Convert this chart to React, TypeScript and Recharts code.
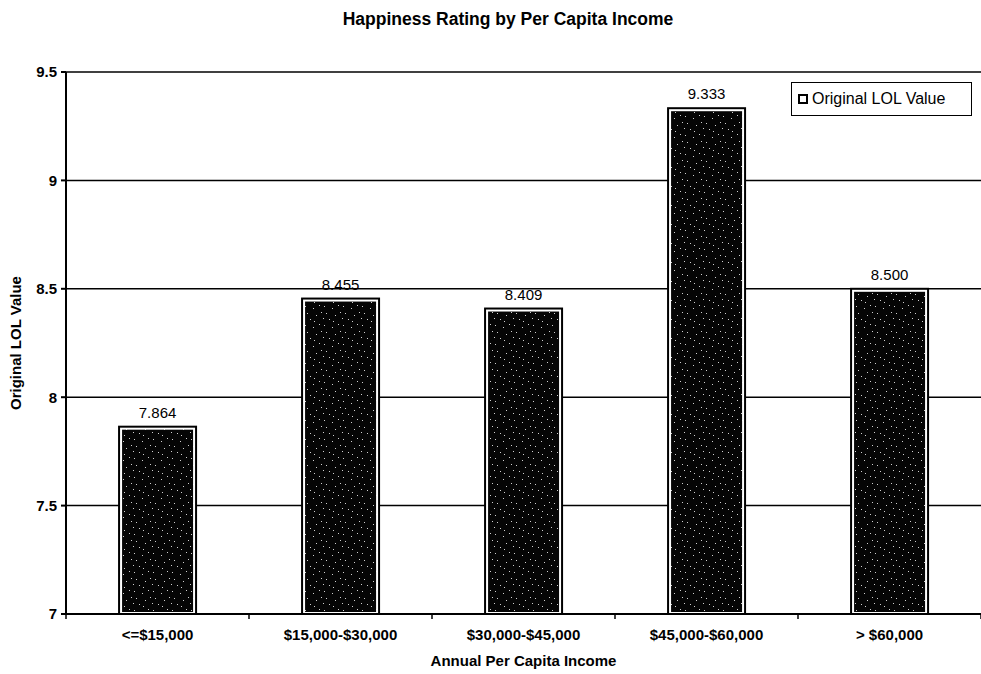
import { BarChart, Bar, XAxis, YAxis, CartesianGrid, Legend, LabelList } from 'recharts'

const incomeBands = ['<=$15,000', '$15,000-$30,000', '$30,000-$45,000', '$45,000-$60,000', '> $60,000']
const lolValues = [7.864, 8.455, 8.409, 9.333, 8.5]
const yTicks = [7, 7.5, 8, 8.5, 9, 9.5]

const data = incomeBands.map((band, i) => ({ band, value: lolValues[i] }))

const W = 981
const H = 674
const Y_AXIS_W = 66
const TICK_SIZE = 5
const TICK_MARGIN = 9
const FONT = 'Arial, "Liberation Sans", Helvetica, sans-serif'

// sparse light flecks over the near-black bar fill
const flecks = [
  [1, 2], [9, 4], [3, 9], [12, 11], [6, 15], [15, 1], [17, 8], [10, 17], [0, 14],
]

function FramedBar(props: any) {
  const { x, y, width, height } = props
  if (!height || height <= 0) return null
  return (
    <g>
      <rect x={x} y={y} width={width} height={height} fill="#fff" stroke="#000" strokeWidth={2} />
      <rect x={x + 3} y={y + 3} width={width - 6} height={height - 5} fill="url(#speckle)" />
    </g>
  )
}

// category label plus a short tick on the band boundary
function BandTick(props: any) {
  const { x, y, payload, index } = props
  const band = (W - Y_AXIS_W) / incomeBands.length
  const axisY = y - TICK_SIZE - TICK_MARGIN
  const left = x - band / 2
  return (
    <g>
      <line x1={left} x2={left} y1={axisY} y2={axisY + TICK_SIZE} stroke="#000" strokeWidth={1.5} />
      {index === incomeBands.length - 1 && (
        <line x1={x + band / 2} x2={x + band / 2} y1={axisY} y2={axisY + TICK_SIZE} stroke="#000" strokeWidth={1.5} />
      )}
      <text x={x} y={y} dy={12} textAnchor="middle" fontFamily={FONT} fontSize={15} fontWeight="bold" fill="#000">
        {payload.value}
      </text>
    </g>
  )
}

function LegendBox() {
  return (
    <div
      style={{
        border: '1.5px solid #000',
        width: 181,
        height: 34,
        boxSizing: 'border-box',
        display: 'flex',
        alignItems: 'center',
        paddingLeft: 6,
        fontFamily: FONT,
        fontSize: 16,
        color: '#000',
        background: '#fff',
      }}
    >
      <span
        style={{
          display: 'inline-block',
          width: 6,
          height: 6,
          border: '2px solid #000',
          background: '#fff',
          marginRight: 4,
        }}
      />
      Original LOL Value
    </div>
  )
}

export default function App() {
  return (
    <div style={{ position: 'absolute', left: 0, top: 0, width: W, height: H, background: '#fff' }}>
      <div
        style={{
          position: 'absolute',
          left: 258,
          width: 500,
          top: 9,
          textAlign: 'center',
          fontFamily: FONT,
          fontSize: 17.5,
          fontWeight: 'bold',
          color: '#000',
        }}
      >
        Happiness Rating by Per Capita Income
      </div>
      <BarChart
        width={W}
        height={H}
        data={data}
        margin={{ top: 72, right: 0, bottom: 0, left: 0 }}
        barCategoryGap="29%"
      >
        <defs>
          <pattern id="speckle" width={19} height={19} patternUnits="userSpaceOnUse">
            <rect width={19} height={19} fill="#050505" />
            {flecks.map(([fx, fy], i) => (
              <rect key={i} x={fx} y={fy} width={1} height={1} fill="#d0d0d0" />
            ))}
          </pattern>
        </defs>
        <CartesianGrid vertical={false} stroke="#000" strokeWidth={1.5} />
        <XAxis
          dataKey="band"
          height={60}
          stroke="#000"
          strokeWidth={2}
          tickLine={false}
          tickSize={TICK_SIZE}
          tickMargin={TICK_MARGIN}
          interval={0}
          tick={<BandTick />}
          label={{
            value: 'Annual Per Capita Income',
            position: 'insideBottom',
            offset: 8,
            style: { fontFamily: FONT, fontSize: 15, fontWeight: 'bold', fill: '#000' },
          }}
        />
        <YAxis
          width={Y_AXIS_W}
          domain={[7, 9.5]}
          ticks={yTicks}
          stroke="#000"
          strokeWidth={2}
          tickSize={TICK_SIZE}
          tickMargin={4}
          tick={{ fontFamily: FONT, fontSize: 15, fontWeight: 'bold', fill: '#000' }}
          label={{
            value: 'Original LOL Value',
            angle: -90,
            position: 'insideLeft',
            offset: 16,
            style: { textAnchor: 'middle', fontFamily: FONT, fontSize: 15, fontWeight: 'bold', fill: '#000' },
          }}
        />
        <Legend
          layout="vertical"
          align="center"
          verticalAlign="middle"
          wrapperStyle={{ top: 82, right: 9, width: 'auto' }}
          content={<LegendBox />}
        />
        <Bar dataKey="value" name="Original LOL Value" shape={<FramedBar />} isAnimationActive={false}>
          <LabelList
            dataKey="value"
            position="top"
            offset={9}
            formatter={(v: any) => Number(v).toFixed(3)}
            style={{ fontFamily: FONT, fontSize: 15, fill: '#000' }}
          />
        </Bar>
      </BarChart>
    </div>
  )
}
